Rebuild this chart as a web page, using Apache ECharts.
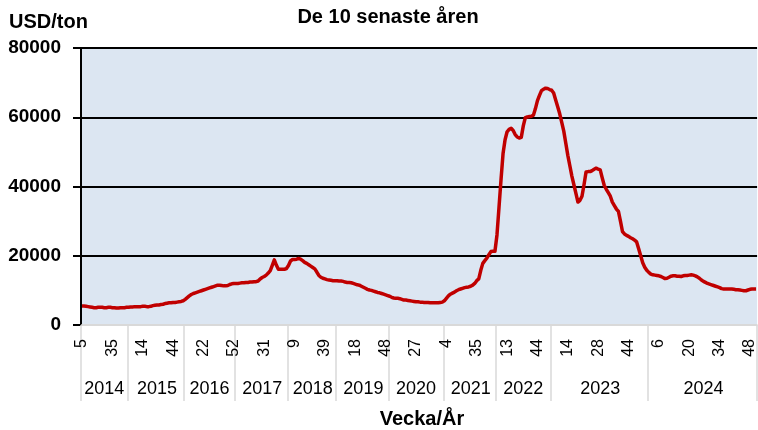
<!DOCTYPE html>
<html>
<head>
<meta charset="utf-8">
<script src="https://cdn.jsdelivr.net/npm/echarts@6.0.0/dist/echarts.min.js"></script>
<style>
  html, body { margin: 0; padding: 0; background: #fff; }
  #chart { width: 758px; height: 430px; }
</style>
</head>
<body>
<div id="chart"></div>
<script>
// week numbers per year (categories)
const w2014 = [5, 7, 9, 11, 13, 15, 17, 19, 21, 23, 25, 27, 29, 31, 33, 35, 37, 39, 41, 43, 45, 47, 49];
const w2015 = [1, 2, 4, 6, 8, 10, 12, 14, 16, 18, 20, 22, 24, 26, 28, 30, 32, 34, 36, 38, 40, 42, 44, 46, 48, 50, 52, 53];
const w2016 = [4, 6, 8, 10, 12, 14, 16, 18, 20, 22, 24, 26, 28, 30, 32, 34, 36, 38, 40, 42, 44, 46, 48, 50, 52];
const w2017 = [3, 5, 7, 9, 11, 13, 15, 17, 19, 21, 23, 25, 27, 29, 31, 33, 35, 37, 39, 41, 43, 45, 47, 49, 51, 52];
const w2018 = [3, 5, 7, 9, 11, 13, 15, 17, 19, 21, 23, 25, 27, 29, 31, 33, 35, 37, 39, 41, 43, 45, 47, 49];
const w2019 = [1, 2, 4, 6, 8, 10, 12, 14, 16, 18, 20, 22, 24, 26, 28, 30, 32, 34, 36, 38, 40, 42, 44, 46, 48, 50];
const w2020 = [1, 3, 5, 7, 9, 11, 13, 15, 17, 19, 21, 23, 25, 27, 29, 31, 33, 35, 37, 39, 41, 43, 45, 47, 49, 51, 53];
const w2021 = [2, 4, 6, 8, 10, 12, 14, 16, 18, 20, 23, 25, 27, 29, 31, 33, 35, 37, 39, 41, 43, 45, 47, 49, 51, 52];
const w2022 = [3, 5, 7, 9, 11, 13, 15, 17, 19, 21, 23, 25, 27, 29, 32, 34, 36, 38, 40, 42, 44, 46, 48, 49, 50, 51, 52];
const w2023 = [6, 7, 8, 9, 10, 11, 12, 13, 14, 15, 16, 17, 18, 19, 20, 21, 21, 22, 23, 24, 25, 26, 27, 28,
  29, 30, 31, 32, 33, 34, 35, 36, 37, 38, 39, 40, 42, 43, 44, 45, 46, 47, 48, 49, 49, 50, 51, 52];
const w2024 = [1, 2, 3, 4, 5, 6, 7, 8, 9, 10, 11, 12, 13, 13, 14, 15, 16, 17, 18, 19, 20,
  21, 22, 23, 24, 25, 26, 27, 27, 28, 29, 30, 31, 32, 33, 34,
  35, 36, 37, 38, 39, 40, 41, 41, 42, 43, 44, 45, 46, 47, 48, 49, 50, 51];

// price, USD/ton
const v2014 = [5500, 5500, 5400, 5300, 5200, 5100, 5000, 5000, 5100, 5100, 5100, 5000, 5000, 5100, 5100, 5000, 5000, 4900, 4900, 5000, 5000, 5000, 5100];
const v2015 = [5100, 5200, 5200, 5300, 5300, 5300, 5300, 5400, 5400, 5300, 5300, 5400, 5600, 5700, 5800, 5800, 5900, 6000, 6200, 6300, 6400, 6400, 6500, 6500, 6600, 6700, 6800, 7000];
const v2016 = [7400, 7900, 8400, 8800, 9100, 9300, 9500, 9700, 9900, 10100, 10300, 10500, 10700, 10900, 11100, 11300, 11500, 11500, 11400, 11300, 11300, 11400, 11700, 11900, 12000];
const v2017 = [12000, 12000, 12100, 12200, 12200, 12300, 12300, 12400, 12400, 12500, 12500, 12700, 13300, 13700, 14000, 14400, 15000, 15700, 17200, 18800, 17300, 16100, 16100, 16100, 16100, 16300];
const v2018 = [17200, 18500, 18900, 18900, 19000, 19200, 19000, 18600, 18100, 17800, 17400, 17000, 16600, 16200, 15300, 14300, 13800, 13500, 13300, 13100, 13000, 12900, 12800, 12800];
const v2019 = [12800, 12700, 12700, 12600, 12400, 12300, 12300, 12200, 12000, 11800, 11600, 11500, 11200, 10900, 10600, 10300, 10100, 10000, 9800, 9600, 9400, 9300, 9100, 8900, 8700, 8500];
const v2020 = [8300, 8000, 7800, 7700, 7700, 7600, 7400, 7200, 7200, 7100, 7000, 6900, 6800, 6700, 6700, 6600, 6600, 6500, 6500, 6500, 6400, 6400, 6400, 6400, 6400, 6500, 6600];
const v2021 = [7000, 7700, 8400, 8900, 9200, 9500, 9900, 10200, 10400, 10600, 10800, 10900, 11000, 11200, 11500, 12000, 12800, 13300, 15800, 17800, 18600, 19300, 20300, 21200, 21300, 21300];
const v2022 = [26000, 34000, 42000, 49500, 53500, 55800, 56500, 56800, 56200, 55000, 54300, 54000, 54200, 57500, 59900, 60100, 60200, 60300, 60600, 62500, 64800, 66300, 67700, 68100, 68400, 68300, 68000];
const v2023 = [67800, 67000, 65000, 63000, 61000, 58500, 56000, 52500, 49000, 46000, 43000, 40500, 38000, 35500, 36000, 37200,
  40500, 44200, 44300, 44300, 44600, 45000, 45300, 45000, 44800, 42500, 40300, 39200, 38200, 37200, 35500, 34500,
  33500, 32800, 30000, 27000, 26300, 25900, 25600, 25200, 24900, 24500, 24000, 22000, 20000, 18000, 16700, 15800];
const v2024 = [15200, 14700, 14500, 14400, 14300, 14200, 14000, 13700, 13400, 13500, 13800, 14100, 14200, 14200, 14100, 14100, 14000, 14200,
  14300, 14300, 14400, 14500, 14400, 14200, 13900, 13500, 13000, 12600, 12300, 12000, 11800, 11600, 11400, 11200, 11000, 10800,
  10500, 10400, 10400, 10400, 10400, 10400, 10300, 10200, 10200, 10100, 10000, 9900, 9900, 10100, 10300, 10400, 10400, 10400];

const years = ['2014', '2015', '2016', '2017', '2018', '2019', '2020', '2021', '2022', '2023', '2024'];
const weeksByYear = [w2014, w2015, w2016, w2017, w2018, w2019, w2020, w2021, w2022, w2023, w2024];
const valuesByYear = [v2014, v2015, v2016, v2017, v2018, v2019, v2020, v2021, v2022, v2023, v2024];

const yTicks = [0, 20000, 40000, 60000, 80000];

// flatten into one category list: "year|week|n"
const cats = [];
const values = [];
const yearStarts = [];
const yearMids = [];
weeksByYear.forEach((wk, i) => {
  const start = cats.length;
  yearStarts.push(start);
  yearMids.push(Math.round(start + (wk.length - 1) / 2));
  wk.forEach((w, j) => {
    cats.push(years[i] + '|' + w + '|' + j);
    values.push(valuesByYear[i][j]);
  });
});

const font = 'Liberation Sans';
const chart = echarts.init(document.getElementById('chart'), null, { renderer: 'canvas' });

chart.setOption({
  animation: false,
  backgroundColor: '#fff',
  title: [
    {
      text: 'De 10 senaste åren', left: 388, top: 7, textAlign: 'center', padding: 0,
      textStyle: { fontFamily: font, fontWeight: 'bold', fontSize: 20, color: '#000' }
    },
    {
      text: 'USD/ton', left: 9, top: 12, padding: 0,
      textStyle: { fontFamily: font, fontWeight: 'bold', fontSize: 20, color: '#000' }
    },
    {
      text: 'Vecka/År', left: 422, top: 409, textAlign: 'center', padding: 0,
      textStyle: { fontFamily: font, fontWeight: 'bold', fontSize: 20, color: '#000' }
    }
  ],
  grid: {
    left: 81, right: 0, top: 48, bottom: 105,
    show: true, backgroundColor: '#dce6f2', borderWidth: 0
  },
  xAxis: [
    {
      type: 'category',
      data: cats,
      boundaryGap: true,
      axisLine: { lineStyle: { color: '#d9d9d9', width: 1.5 } },
      axisTick: { show: false },
      axisLabel: {
        interval: 14,
        rotate: 90,
        margin: 14,
        fontFamily: font,
        fontSize: 16,
        color: '#000',
        formatter: (v) => v.split('|')[1]
      }
    },
    {
      type: 'category',
      data: cats,
      position: 'bottom',
      offset: 0,
      boundaryGap: true,
      axisLine: { show: false },
      axisTick: {
        show: true,
        interval: (idx) => yearStarts.indexOf(idx) >= 0,
        length: 76,
        lineStyle: { color: '#d9d9d9', width: 1.5 }
      },
      axisLabel: {
        interval: (idx) => yearMids.indexOf(idx) >= 0,
        margin: 55,
        fontFamily: font,
        fontSize: 18,
        color: '#000',
        formatter: (v) => v.split('|')[0]
      }
    }
  ],
  yAxis: {
    type: 'value',
    min: yTicks[0],
    max: yTicks[yTicks.length - 1],
    interval: yTicks[1] - yTicks[0],
    axisLine: { show: true, lineStyle: { color: '#000', width: 2 } },
    axisTick: { show: true, length: 8, lineStyle: { color: '#000', width: 2 } },
    axisLabel: {
      margin: 20,
      fontFamily: font,
      fontWeight: 'bold',
      fontSize: 19,
      color: '#000',
      formatter: (v) => String(v)
    },
    splitLine: {
      show: true,
      lineStyle: { color: ['#d9d9d9', '#000', '#000', '#000', '#000'], width: 2 }
    }
  },
  series: [
    {
      type: 'line',
      data: values,
      showSymbol: false,
      symbol: 'none',
      lineStyle: { color: '#c00000', width: 3.5, join: 'round' },
      itemStyle: { color: '#c00000' }
    }
  ]
});
</script>
</body>
</html>
